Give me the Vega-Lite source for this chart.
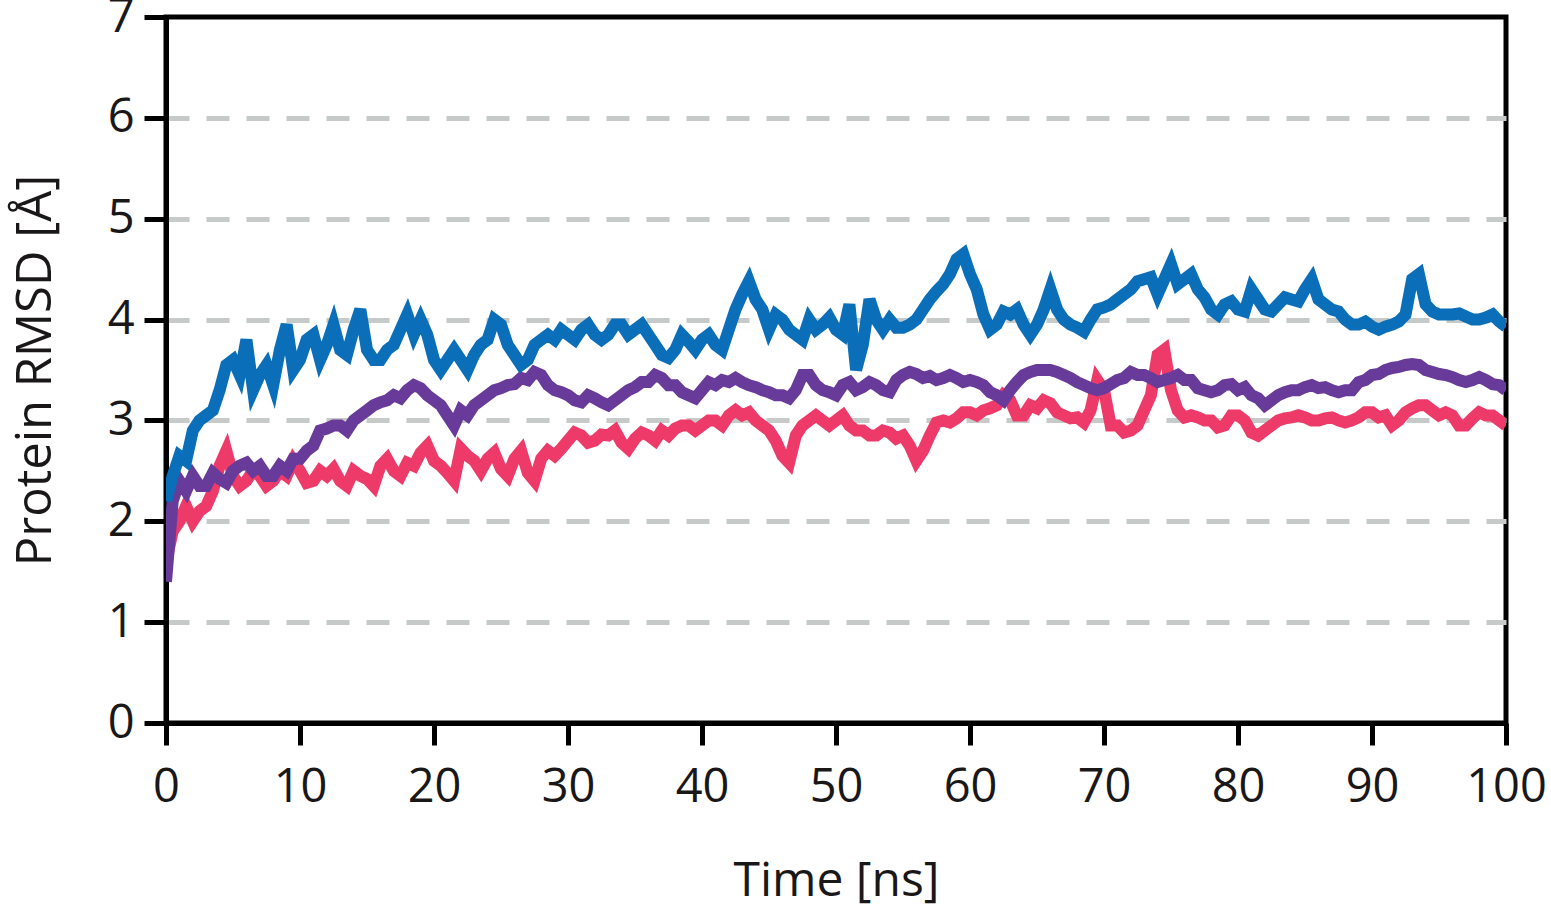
{
  "$schema": "https://vega.github.io/schema/vega-lite/v6.json",
  "width": 1340,
  "height": 706,
  "autosize": "none",
  "padding": {"left": 166, "top": 17, "right": 45, "bottom": 186},
  "background": "white",
  "config": {
    "view": {"stroke": "black", "strokeWidth": 5},
    "font": "Open Sans",
    "axis": {
      "domainColor": "black",
      "domainWidth": 5,
      "tickColor": "black",
      "tickWidth": 5,
      "tickSize": 22,
      "labelFont": "Open Sans",
      "labelFontSize": 47,
      "labelColor": "#1a1718",
      "titleFont": "Open Sans",
      "titleFontSize": 48,
      "titleFontWeight": "normal",
      "titleColor": "#1a1718"
    }
  },
  "data": {
    "values": [
      {"t": 0, "b": 2.2, "p": 1.4, "r": 1.6},
      {"t": 0.5, "b": 2.45, "p": 2.2, "r": 1.9},
      {"t": 1, "b": 2.65, "p": 2.4, "r": 2.0},
      {"t": 1.5, "b": 2.6, "p": 2.3, "r": 2.15},
      {"t": 2, "b": 2.9, "p": 2.45, "r": 2.0},
      {"t": 2.5, "b": 3.0, "p": 2.35, "r": 2.1},
      {"t": 3, "b": 3.05, "p": 2.35, "r": 2.15},
      {"t": 3.5, "b": 3.1, "p": 2.48, "r": 2.3},
      {"t": 4, "b": 3.3, "p": 2.42, "r": 2.55},
      {"t": 4.5, "b": 3.55, "p": 2.38, "r": 2.7},
      {"t": 5, "b": 3.6, "p": 2.5, "r": 2.45},
      {"t": 5.5, "b": 3.45, "p": 2.55, "r": 2.35},
      {"t": 6, "b": 3.8, "p": 2.58, "r": 2.4},
      {"t": 6.5, "b": 3.3, "p": 2.5, "r": 2.5},
      {"t": 7, "b": 3.45, "p": 2.55, "r": 2.45},
      {"t": 7.5, "b": 3.55, "p": 2.45, "r": 2.35},
      {"t": 8, "b": 3.35, "p": 2.45, "r": 2.4},
      {"t": 8.5, "b": 3.7, "p": 2.55, "r": 2.5},
      {"t": 9, "b": 3.95, "p": 2.5, "r": 2.45},
      {"t": 9.5, "b": 3.5, "p": 2.62, "r": 2.6},
      {"t": 10, "b": 3.6, "p": 2.62, "r": 2.5},
      {"t": 10.5, "b": 3.8, "p": 2.7, "r": 2.38},
      {"t": 11, "b": 3.85, "p": 2.75, "r": 2.4},
      {"t": 11.5, "b": 3.6, "p": 2.9, "r": 2.5},
      {"t": 12, "b": 3.75, "p": 2.92, "r": 2.45},
      {"t": 12.5, "b": 3.95, "p": 2.95, "r": 2.52},
      {"t": 13, "b": 3.7, "p": 2.95, "r": 2.4},
      {"t": 13.5, "b": 3.65, "p": 2.9, "r": 2.35},
      {"t": 14, "b": 3.9, "p": 3.0, "r": 2.5},
      {"t": 14.5, "b": 4.1, "p": 3.05, "r": 2.45},
      {"t": 15, "b": 3.7, "p": 3.1, "r": 2.42},
      {"t": 15.5, "b": 3.6, "p": 3.15, "r": 2.35},
      {"t": 16, "b": 3.6, "p": 3.18, "r": 2.55},
      {"t": 16.5, "b": 3.7, "p": 3.2, "r": 2.62},
      {"t": 17, "b": 3.75, "p": 3.25, "r": 2.5},
      {"t": 17.5, "b": 3.9, "p": 3.22, "r": 2.45},
      {"t": 18, "b": 4.05, "p": 3.3, "r": 2.58},
      {"t": 18.5, "b": 3.85, "p": 3.35, "r": 2.55},
      {"t": 19, "b": 4.0, "p": 3.32, "r": 2.68},
      {"t": 19.5, "b": 3.85, "p": 3.25, "r": 2.75},
      {"t": 20, "b": 3.6, "p": 3.2, "r": 2.6},
      {"t": 20.5, "b": 3.5, "p": 3.15, "r": 2.55},
      {"t": 21, "b": 3.6, "p": 3.05, "r": 2.48},
      {"t": 21.5, "b": 3.7, "p": 2.95, "r": 2.4},
      {"t": 22, "b": 3.6, "p": 3.1, "r": 2.72},
      {"t": 22.5, "b": 3.5, "p": 3.05, "r": 2.65},
      {"t": 23, "b": 3.65, "p": 3.15, "r": 2.6},
      {"t": 23.5, "b": 3.75, "p": 3.2, "r": 2.5},
      {"t": 24, "b": 3.8, "p": 3.25, "r": 2.62},
      {"t": 24.5, "b": 4.0, "p": 3.3, "r": 2.68},
      {"t": 25, "b": 3.95, "p": 3.32, "r": 2.52},
      {"t": 25.5, "b": 3.75, "p": 3.35, "r": 2.45},
      {"t": 26, "b": 3.65, "p": 3.36, "r": 2.62},
      {"t": 26.5, "b": 3.55, "p": 3.42, "r": 2.7},
      {"t": 27, "b": 3.6, "p": 3.4, "r": 2.48},
      {"t": 27.5, "b": 3.75, "p": 3.48, "r": 2.4},
      {"t": 28, "b": 3.8, "p": 3.45, "r": 2.62},
      {"t": 28.5, "b": 3.85, "p": 3.35, "r": 2.7},
      {"t": 29, "b": 3.8, "p": 3.3, "r": 2.65},
      {"t": 29.5, "b": 3.9, "p": 3.28, "r": 2.72},
      {"t": 30, "b": 3.85, "p": 3.25, "r": 2.8},
      {"t": 30.5, "b": 3.8, "p": 3.2, "r": 2.88},
      {"t": 31, "b": 3.9, "p": 3.18, "r": 2.85},
      {"t": 31.5, "b": 3.95, "p": 3.25, "r": 2.78},
      {"t": 32, "b": 3.85, "p": 3.22, "r": 2.8},
      {"t": 32.5, "b": 3.8, "p": 3.18, "r": 2.86},
      {"t": 33, "b": 3.85, "p": 3.15, "r": 2.85},
      {"t": 33.5, "b": 3.95, "p": 3.2, "r": 2.9},
      {"t": 34, "b": 3.95, "p": 3.25, "r": 2.78},
      {"t": 34.5, "b": 3.85, "p": 3.3, "r": 2.72},
      {"t": 35, "b": 3.9, "p": 3.33, "r": 2.82},
      {"t": 35.5, "b": 3.95, "p": 3.38, "r": 2.88},
      {"t": 36, "b": 3.85, "p": 3.38, "r": 2.85},
      {"t": 36.5, "b": 3.75, "p": 3.45, "r": 2.8},
      {"t": 37, "b": 3.65, "p": 3.42, "r": 2.9},
      {"t": 37.5, "b": 3.62, "p": 3.35, "r": 2.85},
      {"t": 38, "b": 3.7, "p": 3.35, "r": 2.92},
      {"t": 38.5, "b": 3.85, "p": 3.28, "r": 2.95},
      {"t": 39, "b": 3.78, "p": 3.25, "r": 2.95},
      {"t": 39.5, "b": 3.7, "p": 3.22, "r": 2.9},
      {"t": 40, "b": 3.8, "p": 3.3, "r": 2.95},
      {"t": 40.5, "b": 3.85, "p": 3.38, "r": 3.0},
      {"t": 41, "b": 3.75, "p": 3.35, "r": 3.0},
      {"t": 41.5, "b": 3.7, "p": 3.4, "r": 2.95},
      {"t": 42, "b": 3.9, "p": 3.38, "r": 3.05},
      {"t": 42.5, "b": 4.1, "p": 3.42, "r": 3.1},
      {"t": 43, "b": 4.25, "p": 3.38, "r": 3.05},
      {"t": 43.5, "b": 4.38, "p": 3.35, "r": 3.08},
      {"t": 44, "b": 4.2, "p": 3.33, "r": 3.0},
      {"t": 44.5, "b": 4.1, "p": 3.3, "r": 2.95},
      {"t": 45, "b": 3.9, "p": 3.28, "r": 2.9},
      {"t": 45.5, "b": 4.05, "p": 3.25, "r": 2.8},
      {"t": 46, "b": 4.0, "p": 3.25, "r": 2.65},
      {"t": 46.5, "b": 3.9, "p": 3.22, "r": 2.58},
      {"t": 47, "b": 3.85, "p": 3.3, "r": 2.85},
      {"t": 47.5, "b": 3.8, "p": 3.45, "r": 2.95},
      {"t": 48, "b": 4.0, "p": 3.45, "r": 3.0},
      {"t": 48.5, "b": 3.9, "p": 3.35, "r": 3.05},
      {"t": 49, "b": 3.95, "p": 3.3, "r": 3.0},
      {"t": 49.5, "b": 4.02, "p": 3.28, "r": 2.95},
      {"t": 50, "b": 3.9, "p": 3.25, "r": 3.0},
      {"t": 50.5, "b": 3.85, "p": 3.35, "r": 3.05},
      {"t": 51, "b": 4.15, "p": 3.38, "r": 2.95},
      {"t": 51.5, "b": 3.5, "p": 3.3, "r": 2.9},
      {"t": 52, "b": 3.75, "p": 3.33, "r": 2.9},
      {"t": 52.5, "b": 4.2, "p": 3.38, "r": 2.85},
      {"t": 53, "b": 4.0, "p": 3.35, "r": 2.85},
      {"t": 53.5, "b": 3.9, "p": 3.3, "r": 2.9},
      {"t": 54, "b": 4.0, "p": 3.28, "r": 2.88},
      {"t": 54.5, "b": 3.92, "p": 3.4, "r": 2.82},
      {"t": 55, "b": 3.92, "p": 3.45, "r": 2.85},
      {"t": 55.5, "b": 3.95, "p": 3.48, "r": 2.75},
      {"t": 56, "b": 4.0, "p": 3.46, "r": 2.6},
      {"t": 56.5, "b": 4.1, "p": 3.42, "r": 2.7},
      {"t": 57, "b": 4.2, "p": 3.44, "r": 2.85},
      {"t": 57.5, "b": 4.28, "p": 3.4, "r": 2.98},
      {"t": 58, "b": 4.35, "p": 3.42, "r": 3.0},
      {"t": 58.5, "b": 4.45, "p": 3.45, "r": 2.98},
      {"t": 59, "b": 4.6, "p": 3.42, "r": 3.02},
      {"t": 59.5, "b": 4.65, "p": 3.38, "r": 3.08},
      {"t": 60, "b": 4.45, "p": 3.4, "r": 3.08},
      {"t": 60.5, "b": 4.3, "p": 3.38, "r": 3.05},
      {"t": 61, "b": 4.05, "p": 3.35, "r": 3.1},
      {"t": 61.5, "b": 3.9, "p": 3.28, "r": 3.12},
      {"t": 62, "b": 3.95, "p": 3.25, "r": 3.15},
      {"t": 62.5, "b": 4.08, "p": 3.2, "r": 3.25},
      {"t": 63, "b": 4.05, "p": 3.3, "r": 3.2},
      {"t": 63.5, "b": 4.1, "p": 3.38, "r": 3.05},
      {"t": 64, "b": 3.95, "p": 3.45, "r": 3.05},
      {"t": 64.5, "b": 3.85, "p": 3.48, "r": 3.15},
      {"t": 65, "b": 3.95, "p": 3.5, "r": 3.12},
      {"t": 65.5, "b": 4.1, "p": 3.5, "r": 3.2},
      {"t": 66, "b": 4.3, "p": 3.5, "r": 3.17},
      {"t": 66.5, "b": 4.1, "p": 3.48, "r": 3.08},
      {"t": 67, "b": 4.0, "p": 3.45, "r": 3.05},
      {"t": 67.5, "b": 3.95, "p": 3.42, "r": 3.02},
      {"t": 68, "b": 3.92, "p": 3.38, "r": 3.03},
      {"t": 68.5, "b": 3.88, "p": 3.35, "r": 2.98},
      {"t": 69, "b": 4.0, "p": 3.32, "r": 3.1},
      {"t": 69.5, "b": 4.1, "p": 3.3, "r": 3.4},
      {"t": 70, "b": 4.12, "p": 3.32, "r": 3.3},
      {"t": 70.5, "b": 4.15, "p": 3.36, "r": 2.95},
      {"t": 71, "b": 4.2, "p": 3.4, "r": 2.95},
      {"t": 71.5, "b": 4.25, "p": 3.42, "r": 2.88},
      {"t": 72, "b": 4.3, "p": 3.48, "r": 2.9},
      {"t": 72.5, "b": 4.38, "p": 3.45, "r": 2.95},
      {"t": 73, "b": 4.4, "p": 3.45, "r": 3.1},
      {"t": 73.5, "b": 4.42, "p": 3.42, "r": 3.25},
      {"t": 74, "b": 4.25, "p": 3.38, "r": 3.65},
      {"t": 74.5, "b": 4.4, "p": 3.4, "r": 3.7},
      {"t": 75, "b": 4.55, "p": 3.42, "r": 3.3},
      {"t": 75.5, "b": 4.35, "p": 3.45, "r": 3.1},
      {"t": 76, "b": 4.4, "p": 3.4, "r": 3.03},
      {"t": 76.5, "b": 4.45, "p": 3.4, "r": 3.05},
      {"t": 77, "b": 4.3, "p": 3.32, "r": 3.03},
      {"t": 77.5, "b": 4.22, "p": 3.3, "r": 3.0},
      {"t": 78, "b": 4.1, "p": 3.28, "r": 3.0},
      {"t": 78.5, "b": 4.05, "p": 3.3, "r": 2.93},
      {"t": 79, "b": 4.15, "p": 3.35, "r": 2.95},
      {"t": 79.5, "b": 4.18, "p": 3.36, "r": 3.05},
      {"t": 80, "b": 4.1, "p": 3.3, "r": 3.05},
      {"t": 80.5, "b": 4.08, "p": 3.33, "r": 3.0},
      {"t": 81, "b": 4.3, "p": 3.25, "r": 2.88},
      {"t": 81.5, "b": 4.2, "p": 3.22, "r": 2.85},
      {"t": 82, "b": 4.1, "p": 3.15, "r": 2.9},
      {"t": 82.5, "b": 4.08, "p": 3.2, "r": 2.95},
      {"t": 83, "b": 4.15, "p": 3.25, "r": 3.0},
      {"t": 83.5, "b": 4.22, "p": 3.28, "r": 3.02},
      {"t": 84, "b": 4.2, "p": 3.3, "r": 3.03},
      {"t": 84.5, "b": 4.18, "p": 3.3, "r": 3.05},
      {"t": 85, "b": 4.3, "p": 3.33, "r": 3.03},
      {"t": 85.5, "b": 4.4, "p": 3.35, "r": 3.0},
      {"t": 86, "b": 4.2, "p": 3.32, "r": 3.0},
      {"t": 86.5, "b": 4.15, "p": 3.33, "r": 3.02},
      {"t": 87, "b": 4.1, "p": 3.3, "r": 3.03},
      {"t": 87.5, "b": 4.08, "p": 3.28, "r": 3.0},
      {"t": 88, "b": 4.0, "p": 3.3, "r": 2.98},
      {"t": 88.5, "b": 3.95, "p": 3.3, "r": 3.0},
      {"t": 89, "b": 3.95, "p": 3.38, "r": 3.03},
      {"t": 89.5, "b": 3.98, "p": 3.4, "r": 3.08},
      {"t": 90, "b": 3.93, "p": 3.45, "r": 3.08},
      {"t": 90.5, "b": 3.9, "p": 3.46, "r": 3.03},
      {"t": 91, "b": 3.93, "p": 3.5, "r": 3.05},
      {"t": 91.5, "b": 3.95, "p": 3.52, "r": 2.95},
      {"t": 92, "b": 3.98, "p": 3.53, "r": 3.0},
      {"t": 92.5, "b": 4.05, "p": 3.55, "r": 3.08},
      {"t": 93, "b": 4.4, "p": 3.56, "r": 3.12},
      {"t": 93.5, "b": 4.45, "p": 3.55, "r": 3.15},
      {"t": 94, "b": 4.15, "p": 3.5, "r": 3.15},
      {"t": 94.5, "b": 4.08, "p": 3.48, "r": 3.1},
      {"t": 95, "b": 4.05, "p": 3.46, "r": 3.05},
      {"t": 95.5, "b": 4.05, "p": 3.45, "r": 3.08},
      {"t": 96, "b": 4.05, "p": 3.43, "r": 3.05},
      {"t": 96.5, "b": 4.06, "p": 3.4, "r": 2.95},
      {"t": 97, "b": 4.03, "p": 3.38, "r": 2.95},
      {"t": 97.5, "b": 4.0, "p": 3.4, "r": 3.02},
      {"t": 98, "b": 4.0, "p": 3.43, "r": 3.08},
      {"t": 98.5, "b": 4.02, "p": 3.4, "r": 3.05},
      {"t": 99, "b": 4.05, "p": 3.36, "r": 3.05},
      {"t": 99.5, "b": 3.98, "p": 3.35, "r": 3.0},
      {"t": 100, "b": 3.93, "p": 3.3, "r": 2.95}
    ]
  },
  "encoding": {
    "x": {
      "field": "t",
      "type": "quantitative",
      "scale": {"domain": [0, 100], "nice": false},
      "axis": {
        "values": [0, 10, 20, 30, 40, 50, 60, 70, 80, 90, 100],
        "format": "d",
        "grid": false,
        "labelPadding": 19,
        "labelFlush": false,
        "title": "Time [ns]",
        "titlePadding": 47
      }
    }
  },
  "layer": [
    {
      "mark": {"type": "line", "color": "#ee3a69", "strokeWidth": 12, "strokeJoin": "miter", "clip": true},
      "encoding": {
        "y": {
          "field": "r",
          "type": "quantitative",
          "scale": {"domain": [0, 7], "nice": false},
          "axis": {
            "values": [0, 1, 2, 3, 4, 5, 6, 7],
            "format": "d",
            "grid": true,
            "gridColor": {
              "condition": {"test": "datum.value == 0 || datum.value == 7", "value": "transparent"},
              "value": "#c6cac8"
            },
            "gridWidth": 5,
            "gridDash": [23, 17],
            "labelPadding": 10,
            "labelFlush": false,
            "title": "Protein RMSD [Å]",
            "titleFontSize": 49,
            "titlePadding": 47
          }
        }
      }
    },
    {
      "mark": {"type": "line", "color": "#683a99", "strokeWidth": 12, "strokeJoin": "miter", "clip": true},
      "encoding": {"y": {"field": "p", "type": "quantitative"}}
    },
    {
      "mark": {"type": "line", "color": "#0a6eb9", "strokeWidth": 12, "strokeJoin": "miter", "clip": true},
      "encoding": {"y": {"field": "b", "type": "quantitative"}}
    }
  ]
}
